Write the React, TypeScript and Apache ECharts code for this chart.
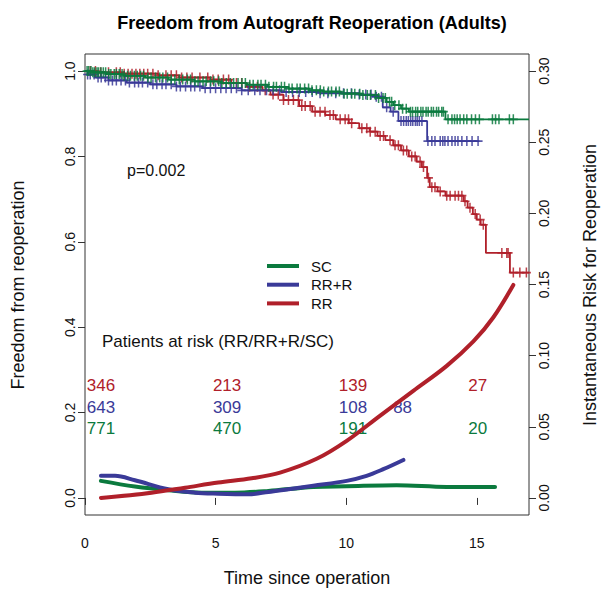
import { useEffect, useRef } from "react";
import * as echarts from "echarts";

const FONT = "'Liberation Sans', Arial, Helvetica, sans-serif";
const GREEN = "#0b7a3e";
const BLUE = "#3a3a98";
const RED = "#b0202a";

const titleText = "Freedom from Autograft Reoperation (Adults)";
const xTicks = [0, 5, 10, 15];
const leftTicks = [0, 0.2, 0.4, 0.6, 0.8, 1.0];
const rightTicks = [0, 0.05, 0.1, 0.15, 0.2, 0.25, 0.3];

// Kaplan-Meier steps: [time, freedom from reoperation]
const scSteps: [number, number][] = [
  [0, 1.0], [0.3, 0.997], [0.8, 0.993], [1.5, 0.989], [2.3, 0.985], [3.2, 0.98],
  [4.2, 0.976], [5.2, 0.972], [6.2, 0.968], [7.0, 0.963], [7.8, 0.959], [8.6, 0.955],
  [9.1, 0.952], [9.8, 0.947], [10.6, 0.944], [11.2, 0.937], [11.55, 0.928], [11.8, 0.92],
  [12.1, 0.912], [12.4, 0.905], [13.8, 0.887], [17.0, 0.887],
];
const rrrSteps: [number, number][] = [
  [0, 1.0], [0.1, 0.992], [0.4, 0.985], [0.9, 0.978], [1.6, 0.973], [2.5, 0.969],
  [3.5, 0.964], [4.5, 0.96], [6.0, 0.955], [7.5, 0.951], [9.0, 0.948], [10.5, 0.945],
  [11.0, 0.94], [11.4, 0.915], [11.7, 0.905], [12.0, 0.883], [13.1, 0.836], [15.1, 0.836],
];
const rrSteps: [number, number][] = [
  [0, 1.0], [0.5, 0.997], [1.5, 0.994], [2.8, 0.99], [3.6, 0.985], [4.8, 0.98],
  [5.6, 0.972], [6.2, 0.963], [6.8, 0.955], [7.1, 0.945], [7.6, 0.932], [8.2, 0.918],
  [8.7, 0.905], [9.2, 0.897], [9.6, 0.887], [10.1, 0.878], [10.5, 0.866], [10.9, 0.858],
  [11.2, 0.848], [11.5, 0.838], [11.8, 0.826], [12.1, 0.814], [12.4, 0.8], [12.7, 0.788],
  [12.9, 0.775], [13.1, 0.75], [13.2, 0.728], [13.5, 0.718], [13.8, 0.708], [14.5, 0.695],
  [14.65, 0.68], [14.85, 0.665], [15.0, 0.652], [15.15, 0.64], [15.35, 0.574],
  [16.27, 0.528], [17.0, 0.528],
];

// censoring times (+ marks)
const scCensor = [
  0.08, 0.14, 0.23, 0.3, 0.37, 0.46, 0.52, 0.61, 0.7, 0.79, 0.91, 0.99, 1.12, 1.2, 1.31,
  1.42, 1.5, 1.63, 1.74, 1.89, 2.0, 2.13, 2.24, 2.41, 2.53, 2.7, 2.86, 2.98, 3.16, 3.3,
  3.44, 3.61, 3.74, 3.92, 4.04, 4.21, 4.33, 4.52, 4.64, 4.81, 4.93, 5.12, 5.24, 5.41,
  5.56, 5.69, 5.86, 6.01, 6.14, 6.31, 6.44, 6.62, 6.74, 6.91, 7.04, 7.22, 7.33, 7.52,
  7.64, 7.81, 7.93, 8.12, 8.24, 8.41, 8.56, 8.69, 8.86, 9.01, 9.14, 9.32, 9.44, 9.61,
  9.74, 9.92, 10.04, 10.21, 10.33, 10.52, 10.64, 10.81, 10.93, 11.12, 11.24, 11.41,
  11.5, 11.66, 11.74, 11.86, 12.02, 12.16, 12.3, 12.46, 12.54, 12.66, 12.74, 12.86,
  12.94, 13.06, 13.14, 13.26, 13.34, 13.46, 13.54, 13.66, 13.72, 13.9, 14.05, 14.15,
  14.25, 14.36, 14.5, 14.62, 14.8, 14.95, 15.1, 15.6, 15.72, 15.85, 16.25, 16.4,
];
const rrrCensor = [
  0.1, 0.2, 0.35, 0.5, 0.62, 0.78, 0.9, 1.05, 1.2, 1.38, 1.55, 1.7, 1.9, 2.05, 2.2, 2.4,
  2.6, 2.75, 2.95, 3.1, 3.3, 3.5, 3.65, 3.85, 4.05, 4.2, 4.4, 4.6, 4.8, 5.0, 5.2, 5.4,
  5.6, 5.8, 6.0, 6.25, 6.5, 6.7, 6.95, 7.2, 7.45, 7.7, 7.95, 8.2, 8.45, 8.7, 9.0, 9.3,
  9.6, 9.9, 10.2, 10.5, 10.75, 10.95, 11.15, 11.35, 11.55, 11.8, 12.1, 12.2, 12.3,
  12.38, 12.47, 12.55, 12.65, 12.72, 12.8, 12.9, 13.13, 13.28, 13.4, 13.6, 13.7, 13.78,
  13.9, 14.05, 14.17, 14.28, 14.43, 14.62, 14.82, 15.05,
];
const rrCensor = [
  0.2, 0.4, 0.6, 0.9, 1.2, 1.35, 1.5, 1.65, 1.8, 1.95, 2.1, 2.25, 2.4, 2.6, 2.8, 3.1,
  3.3, 3.5, 3.7, 3.9, 4.1, 4.4, 4.7, 4.9, 5.1, 5.3, 5.5, 5.8, 6.0, 6.3, 6.6, 6.9, 7.2,
  7.4, 7.6, 7.79, 7.98, 8.17, 8.3, 8.43, 8.62, 8.81, 9.0, 9.19, 9.38, 9.51, 9.77, 9.96,
  10.09, 10.21, 10.6, 10.79, 10.92, 11.11, 11.3, 11.43, 11.68, 11.87, 12.0, 12.19,
  12.32, 12.51, 12.64, 12.83, 12.96, 13.15, 13.28, 13.4, 13.6, 13.85, 13.98, 14.17,
  14.3, 14.43, 14.55, 14.74, 14.94, 15.13, 15.25, 15.96, 16.15, 16.2, 16.4, 16.65, 16.9,
];

// instantaneous risk (hazard) curves: [time, hazard]
const scHazard: [number, number][] = [
  [0.61, 0.012], [1.91, 0.008], [3.19, 0.0054], [4.47, 0.0037], [5.74, 0.0037],
  [7.02, 0.0049], [8.74, 0.0077], [10.02, 0.0082], [11.93, 0.0089], [13.85, 0.0077],
  [15.7, 0.0077],
];
const rrrHazard: [number, number][] = [
  [0.61, 0.0155], [1.15, 0.0155], [1.91, 0.0124], [3.19, 0.0061], [4.21, 0.0037],
  [5.1, 0.003], [6.25, 0.0026], [7.02, 0.0042], [7.66, 0.0058], [8.74, 0.0086],
  [10.02, 0.012], [10.78, 0.0155], [11.42, 0.0202], [12.19, 0.0267],
];
const rrHazard: [number, number][] = [
  [0.61, 0.0], [2.55, 0.0037], [3.83, 0.0072], [5.1, 0.0108], [6.38, 0.0138],
  [7.47, 0.0178], [8.87, 0.0275], [10.02, 0.0401], [11.29, 0.0577], [12.57, 0.0752],
  [13.85, 0.0928], [14.87, 0.11], [15.63, 0.1268], [16.4, 0.1497],
];

// patients at risk
const riskTimes = [0.61, 5.44, 10.26, 15.04];
const riskTimesRRR = [0.61, 5.44, 10.26, 12.16];
const riskRR = [346, 213, 139, 27];
const riskRRR = [643, 309, 108, 88];
const riskSC = [771, 470, 191, 20];

const pValueText = "p=0.002";
const atRiskTitle = "Patients at risk (RR/RR+R/SC)";

function survAt(steps: [number, number][], t: number) {
  let s = steps[0][1];
  for (const [ti, si] of steps) {
    if (ti <= t) s = si;
    else break;
  }
  return s;
}

function kmSeries(name: string, steps: [number, number][], color: string) {
  return {
    name,
    type: "line",
    step: "end",
    data: steps,
    showSymbol: false,
    symbol: "none",
    lineStyle: { color, width: 1.8 },
    xAxisIndex: 0,
    yAxisIndex: 0,
    z: 2,
    silent: true,
  };
}

function censorSeries(name: string, steps: [number, number][], times: number[], color: string) {
  return {
    name,
    type: "scatter",
    data: times.map((t) => [t, survAt(steps, t)]),
    symbol: "path://M5,0L5,10M0,5L10,5",
    symbolSize: [9, 10],
    itemStyle: { color: "rgba(0,0,0,0)", borderColor: color, borderWidth: 1.6, opacity: 0.85 },
    xAxisIndex: 0,
    yAxisIndex: 0,
    z: 2,
    silent: true,
  };
}

function hazardSeries(name: string, data: [number, number][], color: string) {
  return {
    name,
    type: "line",
    data,
    smooth: 0.35,
    showSymbol: false,
    symbol: "none",
    lineStyle: { color, width: 4, cap: "round", join: "round" },
    itemStyle: { color },
    xAxisIndex: 0,
    yAxisIndex: 1,
    z: 4,
    silent: true,
  };
}

function riskLabelSeries(name: string, times: number[], values: number[], yPos: number, color: string) {
  return {
    name,
    type: "scatter",
    data: times.map((t, i) => ({ value: [t, yPos], label: { formatter: String(values[i]) } })),
    symbolSize: 0,
    itemStyle: { opacity: 1 },
    label: {
      show: true,
      position: "inside",
      color,
      opacity: 1,
      fontSize: 17,
      fontFamily: FONT,
    },
    emphasis: { disabled: true },
    xAxisIndex: 0,
    yAxisIndex: 0,
    z: 1,
    silent: true,
  };
}

export default function App() {
  const ref = useRef<HTMLDivElement>(null);
  useEffect(() => {
    if (!ref.current) return;
    const chart = echarts.init(ref.current, undefined, { renderer: "svg" });
    const axisLabelBase = { fontSize: 14, color: "#111", fontFamily: FONT };
    chart.setOption({
      animation: false,
      backgroundColor: "#fff",
      textStyle: { fontFamily: FONT },
      title: {
        text: titleText,
        left: 307,
        top: 9,
        textAlign: "center",
        textStyle: { fontSize: 18, fontWeight: "bold", color: "#000", fontFamily: FONT },
      },
      grid: {
        left: 85,
        right: 73,
        top: 54,
        bottom: 79,
        show: true,
        borderColor: "#333",
        borderWidth: 1,
      },
      legend: {
        data: ["SC", "RR+R", "RR"],
        orient: "vertical",
        left: 262,
        top: 253,
        itemWidth: 32,
        itemHeight: 4,
        itemGap: 2.7,
        icon: "rect",
        selectedMode: false,
        textStyle: { fontSize: 15, lineHeight: 16, color: "#111", fontFamily: FONT, padding: [0, 0, 0, 7] },
      },
      xAxis: {
        type: "value",
        min: 0,
        max: 17,
        axisLine: { show: false },
        axisTick: { show: true, length: 7, lineStyle: { color: "#333" }, customValues: xTicks },
        axisLabel: { ...axisLabelBase, margin: 21, customValues: xTicks },
        splitLine: { show: false },
      },
      yAxis: [
        {
          type: "value",
          min: -0.04,
          max: 1.04,
          axisLine: { show: false },
          axisTick: { show: true, length: 7, lineStyle: { color: "#333" }, customValues: leftTicks },
          axisLabel: {
            ...axisLabelBase,
            rotate: 90,
            margin: 8,
            customValues: leftTicks,
            formatter: (v: number) => v.toFixed(1),
          },
          splitLine: { show: false },
        },
        {
          type: "value",
          position: "right",
          min: -0.012,
          max: 0.312,
          axisLine: { show: false },
          axisTick: { show: true, length: 7, lineStyle: { color: "#333" }, customValues: rightTicks },
          axisLabel: {
            ...axisLabelBase,
            rotate: 90,
            margin: 8,
            customValues: rightTicks,
            formatter: (v: number) => v.toFixed(2),
          },
          splitLine: { show: false },
        },
      ],
      graphic: [
        {
          type: "text",
          x: 307,
          y: 578,
          style: { text: "Time since operation", fontSize: 18, fill: "#111", fontFamily: FONT, align: "center", verticalAlign: "middle" },
        },
        {
          type: "text",
          x: 18,
          y: 285,
          rotation: Math.PI / 2,
          style: { text: "Freedom from reoperation", fontSize: 18, fill: "#111", fontFamily: FONT, align: "center", verticalAlign: "middle" },
        },
        {
          type: "text",
          x: 590,
          y: 285,
          rotation: Math.PI / 2,
          style: { text: "Instantaneous Risk for Reoperation", fontSize: 18, fill: "#111", fontFamily: FONT, align: "center", verticalAlign: "middle" },
        },
        {
          type: "text",
          x: 127,
          y: 170,
          style: { text: pValueText, fontSize: 16, fill: "#111", fontFamily: FONT, align: "left", verticalAlign: "middle" },
        },
        {
          type: "text",
          x: 102,
          y: 341,
          style: { text: atRiskTitle, fontSize: 17, fill: "#111", fontFamily: FONT, align: "left", verticalAlign: "middle" },
        },
      ],
      series: [
        riskLabelSeries("risk-RR", riskTimes, riskRR, 0.2635, RED),
        riskLabelSeries("risk-RRR", riskTimesRRR, riskRRR, 0.2124, BLUE),
        riskLabelSeries("risk-SC", riskTimes, riskSC, 0.162, GREEN),
        kmSeries("km-RR", rrSteps, RED),
        censorSeries("cens-RR", rrSteps, rrCensor, RED),
        kmSeries("km-RRR", rrrSteps, BLUE),
        censorSeries("cens-RRR", rrrSteps, rrrCensor, BLUE),
        kmSeries("km-SC", scSteps, GREEN),
        censorSeries("cens-SC", scSteps, scCensor, GREEN),
        hazardSeries("SC", scHazard, GREEN),
        hazardSeries("RR+R", rrrHazard, BLUE),
        hazardSeries("RR", rrHazard, RED),
      ],
    });
    return () => chart.dispose();
  }, []);
  return (
    <div
      ref={ref}
      style={{ position: "fixed", left: 0, top: 0, width: 602, height: 594, background: "#fff" }}
    />
  );
}
